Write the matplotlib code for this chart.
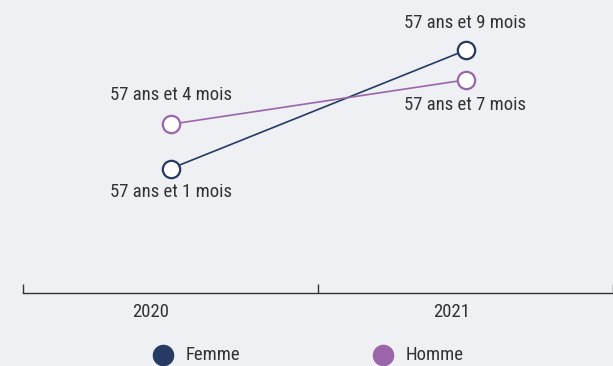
import matplotlib.pyplot as plt
from matplotlib.lines import Line2D

# Age moyen de départ, en mois
years = ["2020", "2021"]
femme = [685, 693]
homme = [688, 691]
femme_labels = ["57 ans et 1 mois", "57 ans et 9 mois"]
homme_labels = ["57 ans et 4 mois", "57 ans et 7 mois"]
series = ["Femme", "Homme"]

bg = "#eef0f4"
c_femme = "#263a63"
c_homme = "#9b66a9"
txt = "#333333"
plt.rcParams["font.family"] = ["Roboto Condensed", "DejaVu Sans"]
plt.rcParams["font.stretch"] = "condensed"

W, H = 613, 366
fig = plt.figure(figsize=(W / 100, H / 100), dpi=100, facecolor=bg)
ax = fig.add_axes([23 / W, 1 - 293 / H, 590 / W, 293 / H])
ax.set_facecolor(bg)

x = [0.5, 1.5]
ax.plot(x, femme, color=c_femme, lw=1.2, marker="o", ms=12.5, mfc="white",
        mec=c_femme, mew=1.6, zorder=3)
ax.plot(x, homme, color=c_homme, lw=1.2, marker="o", ms=12.5, mfc="white",
        mec=c_homme, mew=1.6, zorder=3)

# labels above / below points
kw = dict(textcoords="offset points", ha="center", va="center", fontsize=13.5, color=txt)
ax.annotate(homme_labels[0], (x[0], homme[0]), xytext=(0, 21), **kw)
ax.annotate(femme_labels[0], (x[0], femme[0]), xytext=(0, -17), **kw)
ax.annotate(femme_labels[1], (x[1], femme[1]), xytext=(0, 20), **kw)
ax.annotate(homme_labels[1], (x[1], homme[1]), xytext=(0, -18), **kw)

ax.set_xlim(0, 590 / 311)
ax.set_ylim(676.6, 696.4)
for s in ["top", "right", "left"]:
    ax.spines[s].set_visible(False)
ax.spines["bottom"].set_color(txt)
ax.spines["bottom"].set_linewidth(1.0)
ax.set_yticks([])
ax.set_xticks([0, 1, 2])
ax.set_xticklabels([])
ax.tick_params(axis="x", direction="in", length=6.5, color=txt, width=1)

for xi, yr, dx in zip(x, years, [-14, -10]):
    ax.annotate(yr, (xi, 676.6), xytext=(dx, -14), textcoords="offset points",
                ha="center", va="center", fontsize=13.5, color=txt, annotation_clip=False)

# legend
for lx, name, col in zip([162.7 / W, 382.7 / W], series, [c_femme, c_homme]):
    fig.add_artist(Line2D([lx], [1 - 355 / H], ls="", marker="o", ms=14.5,
                          color=col, transform=fig.transFigure))
    fig.text(lx + 23 / W, 1 - 355 / H, name, ha="left", va="center",
             fontsize=13.5, color=txt)

fig.savefig("out.png", dpi=100, facecolor=bg)
